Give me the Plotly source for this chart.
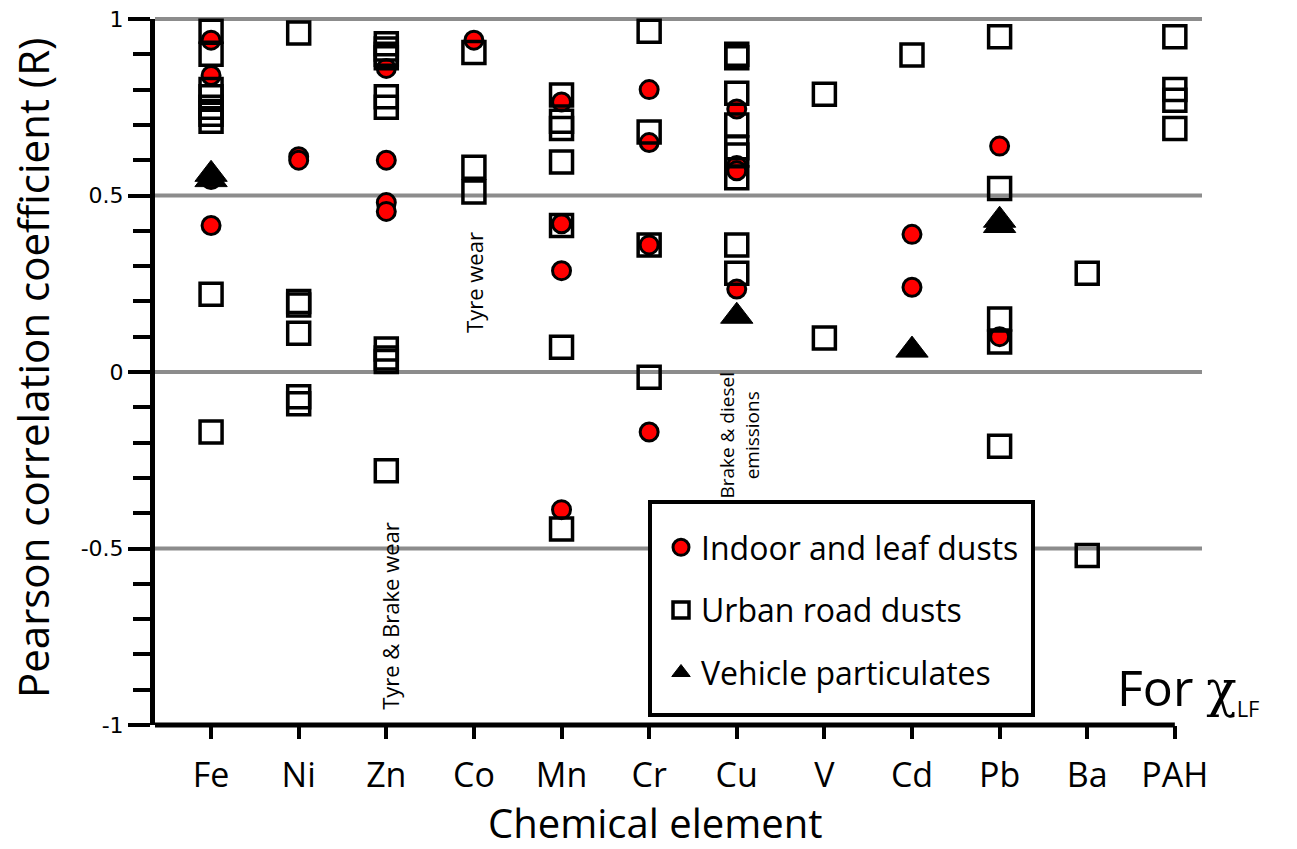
import plotly.graph_objects as go

categories = ["Fe", "Ni", "Zn", "Co", "Mn", "Cr", "Cu", "V", "Cd", "Pb", "Ba", "PAH"]

# Indoor and leaf dusts (red circles)
indoor_x = ["Fe", "Fe", "Fe", "Fe",
            "Ni", "Ni",
            "Zn", "Zn", "Zn", "Zn",
            "Co",
            "Mn", "Mn", "Mn", "Mn",
            "Cr", "Cr", "Cr", "Cr",
            "Cu", "Cu", "Cu", "Cu",
            "Cd", "Cd",
            "Pb", "Pb"]
indoor_y = [0.94, 0.84, 0.545, 0.415,
            0.61, 0.60,
            0.86, 0.60, 0.48, 0.455,
            0.94,
            0.765, 0.42, 0.287, -0.39,
            0.80, 0.65, 0.36, -0.17,
            0.745, 0.585, 0.57, 0.235,
            0.39, 0.24,
            0.64, 0.10]

# Urban road dusts (open squares)
urban_x = ["Fe"] * 9 + ["Ni"] * 6 + ["Zn"] * 10 + ["Co"] * 3 + ["Mn"] * 7 + \
          ["Cr"] * 4 + ["Cu"] * 9 + ["V"] * 2 + ["Cd"] + ["Pb"] * 5 + ["Ba"] * 2 + ["PAH"] * 4
urban_y = [0.965, 0.90, 0.80, 0.78, 0.75, 0.73, 0.71, 0.22, -0.17,
           0.96, 0.20, 0.19, 0.11, -0.07, -0.09,
           0.93, 0.915, 0.90, 0.89, 0.78, 0.75, 0.065, 0.04, 0.03, -0.28,
           0.905, 0.58, 0.51,
           0.785, 0.71, 0.69, 0.595, 0.415, 0.07, -0.445,
           0.965, 0.68, 0.36, -0.015,
           0.90, 0.89, 0.79, 0.70, 0.635, 0.615, 0.55, 0.36, 0.28,
           0.787, 0.096,
           0.898,
           0.95, 0.52, 0.15, 0.085, -0.21,
           0.28, -0.52,
           0.95, 0.80, 0.77, 0.69]

# Vehicle particulates (black triangles)
vehicle_x = ["Fe", "Fe", "Cu", "Cd", "Pb", "Pb"]
vehicle_y = [0.56, 0.545, 0.158, 0.062, 0.43, 0.415]

y_tickvals = [-1, -0.5, 0, 0.5, 1]
y_ticktext = ["-1", "-0.5", "0", "0.5", "1"]
grid_vals = [1, 0.5, 0, -0.5]

TXT = "Open Sans"

# plot area in pixels (for positioning frame/legend/labels)
L, R, T, B = 155, 1202, 19, 725
W, H = R - L, B - T


def px(xp):
    return (xp - L) / W


def py(yp):
    return (B - yp) / H


fig = go.Figure()
fig.add_trace(go.Scatter(
    x=indoor_x, y=indoor_y, mode="markers", name="Indoor and leaf dusts",
    legendgroup="a", cliponaxis=False,
    marker=dict(symbol="circle", size=18, color="#ff0000",
                line=dict(color="black", width=3))))
fig.add_trace(go.Scatter(
    x=urban_x, y=urban_y, mode="markers", name="Urban road dusts",
    legendgroup="b", cliponaxis=False,
    marker=dict(symbol="square-open", size=22, color="black",
                line=dict(color="black", width=3.5))))
fig.add_trace(go.Scatter(
    x=vehicle_x, y=vehicle_y, mode="markers", name="Vehicle particulates",
    legendgroup="c", cliponaxis=False,
    marker=dict(symbol="triangle-up", size=28, color="black",
                line=dict(color="black", width=1))))

for g in grid_vals:
    fig.add_shape(type="line", xref="paper", yref="paper", x0=0, x1=1,
                  y0=(g + 1) / 2, y1=(g + 1) / 2,
                  line=dict(color="#8c8c8c", width=4), layer="below")

# x axis line ending at the last category tick
fig.add_shape(type="line", xref="x", yref="paper", x0=-0.64, x1=11, y0=0, y1=0,
              line=dict(color="black", width=5), layer="above")

# legend frame
fig.add_shape(type="rect", xref="paper", yref="paper",
              x0=px(650), x1=px(1033), y0=py(715), y1=py(502),
              line=dict(color="black", width=4), fillcolor="white", layer="above")

fig.update_xaxes(
    type="category", categoryorder="array", categoryarray=categories,
    range=[-0.64, 11.31], showgrid=False, showline=False, zeroline=False,
    ticks="outside", ticklen=13, tickwidth=4, tickcolor="black",
    tickfont=dict(family=TXT, size=34, color="black"), ticklabelstandoff=7)

fig.update_yaxes(
    range=[-1, 1], tickvals=y_tickvals, ticktext=y_ticktext,
    showgrid=False, zeroline=False, showline=True, linecolor="black", linewidth=5,
    ticks="outside", ticklen=22, tickwidth=4, tickcolor="black",
    tickfont=dict(family="DejaVu Sans", size=22, color="black"),
    minor=dict(dtick=0.1, tick0=0, ticks="outside", ticklen=17, tickwidth=4,
               tickcolor="black", showgrid=False))

fig.add_annotation(text="Pearson correlation coefficient (R)", xref="paper", yref="paper",
                   x=0, y=py(368), xshift=-123, textangle=-90, showarrow=False,
                   xanchor="center", yanchor="middle",
                   font=dict(family=TXT, size=42, color="black"))
fig.add_annotation(text="Chemical element", xref="paper", yref="paper",
                   x=px(655), y=0, yshift=-(822 - B), showarrow=False,
                   xanchor="center", yanchor="middle",
                   font=dict(family=TXT, size=40, color="black"))
fig.add_annotation(text="For <span style='font-family:DejaVu Serif'>χ</span>"
                        "<sub><span style='font-size:22px'>LF</span></sub>",
                   xref="paper", yref="paper", x=px(1115), y=py(688),
                   showarrow=False, xanchor="left", yanchor="middle",
                   font=dict(family=TXT, size=50, color="black"))
fig.add_annotation(text="Tyre & Brake wear", x="Zn", y=-0.69, xshift=3,
                   textangle=-90, showarrow=False,
                   font=dict(family=TXT, size=22, color="black"))
fig.add_annotation(text="Tyre wear", x="Co", y=0.255, xshift=0,
                   textangle=-90, showarrow=False,
                   font=dict(family=TXT, size=22, color="black"))
fig.add_annotation(text="Brake & diesel<br>emissions", x="Cu", y=-0.178, xshift=3,
                   textangle=-90, showarrow=False,
                   font=dict(family=TXT, size=19, color="black"))

fig.update_layout(
    width=1297, height=849,
    margin=dict(l=L, r=1297 - R, t=T, b=849 - B, autoexpand=False),
    paper_bgcolor="white", plot_bgcolor="white",
    showlegend=True,
    legend=dict(x=px(661), y=py(520), xanchor="left", yanchor="top",
                bgcolor="rgba(0,0,0,0)", borderwidth=0,
                font=dict(family=TXT, size=32, color="black"),
                tracegroupgap=18, itemsizing="trace"),
)

fig.write_html("out.html")
